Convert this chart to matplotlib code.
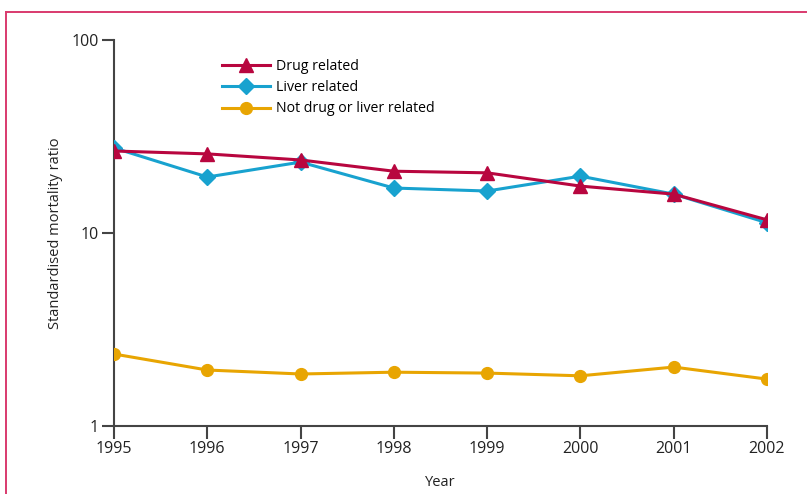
import matplotlib.pyplot as plt
from matplotlib.lines import Line2D
from matplotlib.ticker import FixedLocator, NullLocator, FixedFormatter

plt.rcParams['font.family'] = ['Open Sans', 'DejaVu Sans']

years = [1995, 1996, 1997, 1998, 1999, 2000, 2001, 2002]
drug_related = [26.6, 25.7, 23.9, 20.9, 20.5, 17.5, 15.9, 11.7]
liver_related = [27.6, 19.5, 23.3, 17.1, 16.5, 19.7, 15.9, 11.3]
other_causes = [2.36, 1.95, 1.86, 1.90, 1.88, 1.82, 2.02, 1.75]

y_ticks = [1, 10, 100]
y_ticklabels = ['1', '10', '100']

red = '#b8063f'
blue = '#18a2cf'
orange = '#e8a502'
axis_grey = '#444444'

fig = plt.figure(figsize=(8.07, 4.94), dpi=100)
ax = fig.add_axes([114 / 807, 1 - 426 / 494, (767 - 114) / 807, (426 - 40) / 494])

ax.plot(years, liver_related, color=blue, lw=2.2, marker='D', ms=8.5,
        label='Liver related', zorder=3)
ax.plot(years, drug_related, color=red, lw=2.2, marker='^', ms=10,
        label='Drug related', zorder=4)
ax.plot(years, other_causes, color=orange, lw=2.2, marker='o', ms=8.5,
        label='Not drug or liver related', zorder=3)

ax.set_yscale('log')
ax.set_ylim(1, 100)
ax.set_xlim(1995, 2002)
ax.yaxis.set_major_locator(FixedLocator(y_ticks))
ax.yaxis.set_major_formatter(FixedFormatter(y_ticklabels))
ax.yaxis.set_minor_locator(NullLocator())
ax.set_xticks(years)

for side in ['top', 'right']:
    ax.spines[side].set_visible(False)
for side in ['left', 'bottom']:
    ax.spines[side].set_color(axis_grey)
    ax.spines[side].set_linewidth(1.5)
ax.tick_params(axis='both', colors=axis_grey, width=1.5, length=9,
               labelsize=11.5, labelcolor='#222222', direction='out')
ax.tick_params(axis='x', pad=2)
ax.tick_params(axis='y', pad=2)

ax.set_xlabel('Year', fontsize=10.5, color='#222222', labelpad=13)
ax.set_ylabel('Standardised mortality ratio', fontsize=10.5, color='#222222', labelpad=6)

# legend order: drug, liver, other
handles, labels = ax.get_legend_handles_labels()
order = [1, 0, 2]
ax.legend([handles[i] for i in order], [labels[i] for i in order],
          loc='upper left', bbox_to_anchor=(209 / 807, 1 - 46 / 494),
          bbox_transform=fig.transFigure, frameon=False, fontsize=10.2,
          handlelength=3.4, handletextpad=0.4, labelspacing=0.45)

# panel frame
frame_col = '#d93a6e'
fig.add_artist(Line2D([6.5 / 807, 6.5 / 807], [0, 1 - 12.5 / 494],
                      transform=fig.transFigure, color=frame_col, lw=1.4))
fig.add_artist(Line2D([6.5 / 807, 806 / 807], [1 - 12.5 / 494, 1 - 12.5 / 494],
                      transform=fig.transFigure, color=frame_col, lw=1.4))

fig.savefig('out.png', dpi=100)
